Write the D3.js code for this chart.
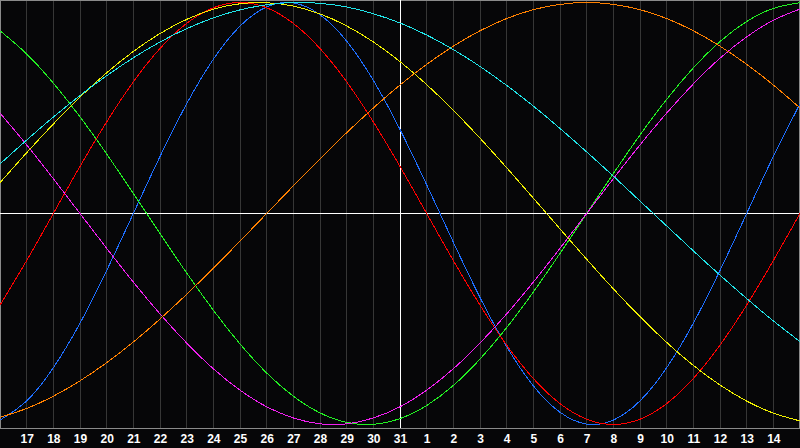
<!DOCTYPE html>
<html>
<head>
<meta charset="utf-8">
<script src="https://cdn.jsdelivr.net/npm/d3@7"></script>
<style>
  html, body { margin: 0; padding: 0; background: #060608; }
  svg { display: block; }
</style>
</head>
<body>
<svg id="chart" width="800" height="448"></svg>
<script>
// Day labels along the bottom (index 1..29)
const dayLabels = ["17","18","19","20","21","22","23","24","25","26","27","28","29","30","31",
                   "1","2","3","4","5","6","7","8","9","10","11","12","13","14"];
const todayIndex = 15; // the "31" column, white marker line

// Daily values (index 0..30, index 0 = day 16), range -1..1
const physical = [-0.979,-0.888,-0.731,-0.520,-0.270,0,0.270,0.520,0.731,0.888,0.979,0.998,0.942,0.817,0.631,0.398,0.136,-0.136,-0.398,-0.631,-0.817,-0.942,-0.998,-0.979,-0.888,-0.731,-0.520,-0.270,0,0.270,0.520];
const emotional = [-0.434,-0.223,0,0.223,0.434,0.624,0.782,0.901,0.975,1,0.975,0.901,0.782,0.624,0.434,0.223,0,-0.223,-0.434,-0.624,-0.782,-0.901,-0.975,-1,-0.975,-0.901,-0.782,-0.624,-0.434,-0.223,0];
const intellectual = [0.866,0.756,0.618,0.458,0.282,0.095,-0.095,-0.282,-0.458,-0.618,-0.756,-0.866,-0.945,-0.990,-0.999,-0.972,-0.910,-0.815,-0.690,-0.541,-0.372,-0.189,0,0.189,0.372,0.541,0.690,0.815,0.910,0.972,0.999];
const intuitive = [0.476,0.325,0.165,0,-0.165,-0.325,-0.476,-0.614,-0.736,-0.837,-0.916,-0.969,-0.997,-0.997,-0.969,-0.916,-0.837,-0.736,-0.614,-0.476,-0.325,-0.165,0,0.165,0.325,0.476,0.614,0.736,0.837,0.916,0.969];
const aesthetic = [0.146,0.288,0.424,0.552,0.667,0.768,0.853,0.920,0.968,0.994,0.999,0.983,0.946,0.889,0.813,0.720,0.611,0.489,0.357,0.217,0.073,-0.073,-0.217,-0.357,-0.489,-0.611,-0.720,-0.813,-0.889,-0.946,-0.983];
const awareness = [-0.966,-0.924,-0.866,-0.793,-0.707,-0.609,-0.5,-0.383,-0.259,-0.131,0,0.131,0.259,0.383,0.5,0.609,0.707,0.793,0.866,0.924,0.966,0.991,1,0.991,0.966,0.924,0.866,0.793,0.707,0.609,0.5];
const spiritual = [0.235,0.348,0.457,0.559,0.653,0.738,0.813,0.876,0.927,0.965,0.989,1.000,0.996,0.979,0.947,0.903,0.846,0.777,0.697,0.607,0.509,0.403,0.292,0.177,0.059,-0.059,-0.177,-0.292,-0.403,-0.509,-0.607];

const seriesNames = ["physical","emotional","intellectual","intuitive","aesthetic","awareness","spiritual"];
const seriesValues = [physical, emotional, intellectual, intuitive, aesthetic, awareness, spiritual];
const seriesColors = ["#1e6eff","#ff0000","#22f022","#f020f0","#f0f000","#ff8000","#20e6ea"];

const W = 800, H = 448;
const plotBottom = 428;
const svg = d3.select("#chart");

const x = d3.scaleLinear().domain([0, 30]).range([0, W]);
const y = d3.scaleLinear().domain([-1, 1]).range([424.5, 2.5]);

svg.append("rect").attr("width", W).attr("height", H).attr("fill", "#060608");

// vertical day grid lines
const gridIdx = d3.range(1, dayLabels.length + 1);
svg.append("g").selectAll("line").data(gridIdx).join("line")
  .attr("x1", d => x(d)).attr("x2", d => x(d))
  .attr("y1", 0).attr("y2", plotBottom)
  .attr("stroke", "#363636").attr("stroke-width", 1)
  .attr("shape-rendering", "crispEdges");

// border
svg.append("rect").attr("x", 0.5).attr("y", 0.5).attr("width", W - 1).attr("height", plotBottom - 0.5)
  .attr("fill", "none").attr("stroke", "#8a8a8a").attr("stroke-width", 1)
  .attr("shape-rendering", "crispEdges");

// zero line and today line
svg.append("line").attr("x1", 0).attr("x2", W).attr("y1", y(0)).attr("y2", y(0))
  .attr("stroke", "#ffffff").attr("stroke-width", 1).attr("shape-rendering", "crispEdges");
svg.append("line").attr("x1", x(todayIndex) + 0.5).attr("x2", x(todayIndex) + 0.5)
  .attr("y1", 0).attr("y2", plotBottom)
  .attr("stroke", "#ffffff").attr("stroke-width", 1).attr("shape-rendering", "crispEdges");

// curves
const line = d3.line().x((d, i) => x(i)).y(d => y(d)).curve(d3.curveNatural);
svg.append("g").selectAll("path").data(seriesValues).join("path")
  .attr("d", d => line(d))
  .attr("fill", "none")
  .attr("stroke", (d, i) => seriesColors[i])
  .attr("stroke-width", 1)
  .attr("shape-rendering", "crispEdges");

// axis labels
const axis = d3.axisBottom(x)
  .tickValues(gridIdx)
  .tickFormat(d => dayLabels[d - 1])
  .tickSize(0).tickPadding(0);
const ax = svg.append("g").attr("transform", `translate(0, ${plotBottom})`).call(axis);
ax.select(".domain").remove();
ax.selectAll("text")
  .attr("y", 15).attr("dy", 0)
  .attr("fill", "#ffffff")
  .style("font-family", "'Liberation Sans', Arial, sans-serif")
  .style("font-weight", "bold")
  .style("font-size", "12px");
</script>
</body>
</html>
